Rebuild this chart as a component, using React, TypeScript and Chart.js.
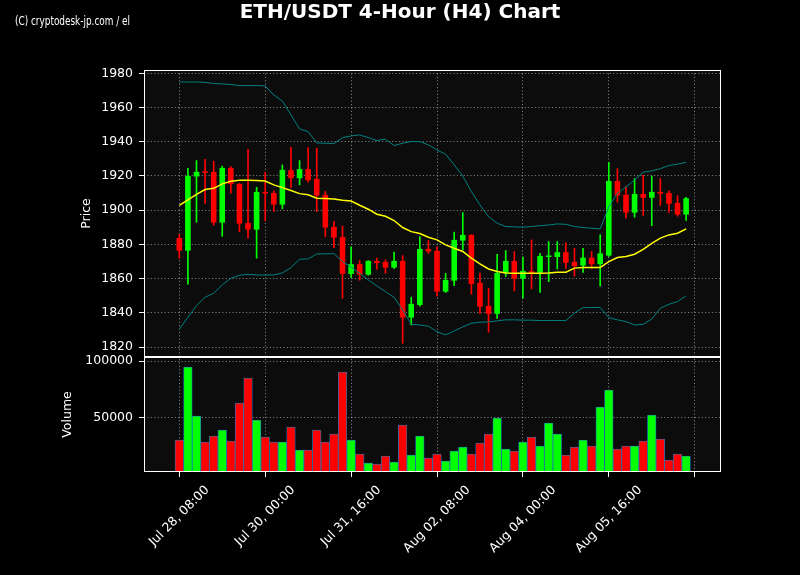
import React, { useEffect, useRef } from 'react';
import { Chart, registerables } from 'chart.js';

Chart.register(...registerables);

// ---- data (4-hour candles, index 0 = Jul 28 08:00) ----
const opens = [
  1883.8, 1876.4, 1919.7, 1922.2, 1922.4, 1892.8, 1924.7, 1915.4, 1892.6, 1888.7,
  1910.7, 1910.1, 1903.3, 1923.4, 1918.7, 1924.0, 1918.3, 1909.0, 1890.3, 1884.4,
  1862.8, 1868.5, 1862.4, 1870.4, 1869.8, 1866.5, 1870.4, 1837.3, 1844.7, 1877.4,
  1876.3, 1852.5, 1858.9, 1882.3, 1885.6, 1857.6, 1844.1, 1839.5, 1863.4, 1870.4,
  1860.0, 1864.4, 1863.6, 1872.7, 1872.7, 1875.5, 1869.8, 1867.7, 1872.3, 1868.5,
  1873.5, 1917.1, 1909.0, 1898.6, 1909.5, 1907.3, 1910.7, 1910.1, 1904.3, 1897.5,
];
const highs = [
  1886.0, 1924.5, 1929.0, 1929.8, 1928.6, 1925.7, 1925.5, 1915.6, 1935.6, 1913.4,
  1922.2, 1911.3, 1926.5, 1936.8, 1929.0, 1936.6, 1936.2, 1911.0, 1893.6, 1890.7,
  1878.6, 1870.6, 1870.6, 1872.0, 1871.0, 1875.5, 1873.5, 1849.2, 1884.6, 1882.3,
  1878.6, 1863.1, 1887.2, 1898.6, 1885.8, 1863.2, 1854.4, 1874.2, 1876.5, 1875.9,
  1872.6, 1882.7, 1874.8, 1881.7, 1881.7, 1881.0, 1877.8, 1877.8, 1875.9, 1885.7,
  1928.0, 1924.3, 1913.8, 1918.5, 1920.4, 1920.0, 1918.5, 1911.3, 1908.6, 1907.6,
];
const lows = [
  1872.0, 1856.8, 1893.0, 1904.0, 1891.3, 1884.8, 1910.0, 1887.4, 1883.7, 1872.0,
  1893.8, 1899.2, 1900.8, 1913.4, 1914.8, 1916.4, 1899.2, 1884.6, 1878.2, 1848.6,
  1860.7, 1859.1, 1862.0, 1865.6, 1863.2, 1866.0, 1822.3, 1833.0, 1844.0, 1874.7,
  1849.8, 1852.0, 1856.0, 1876.8, 1851.0, 1839.7, 1828.8, 1836.9, 1861.3, 1852.9,
  1848.6, 1854.1, 1852.0, 1858.3, 1865.7, 1866.0, 1861.5, 1863.7, 1866.0, 1855.7,
  1873.0, 1904.7, 1895.3, 1895.9, 1897.0, 1891.0, 1902.8, 1898.8, 1896.5, 1894.0,
];
const closes = [
  1876.4, 1920.0, 1922.4, 1921.8, 1892.8, 1924.7, 1915.2, 1892.2, 1888.7, 1910.7,
  1909.8, 1903.3, 1923.6, 1918.7, 1924.0, 1917.5, 1908.6, 1889.9, 1884.0, 1862.9,
  1868.5, 1862.4, 1870.4, 1869.2, 1866.5, 1870.4, 1837.3, 1845.3, 1877.4, 1875.9,
  1852.5, 1859.3, 1882.7, 1885.6, 1857.0, 1843.7, 1839.5, 1863.4, 1870.4, 1860.0,
  1864.6, 1863.0, 1873.3, 1873.3, 1875.5, 1869.3, 1867.4, 1872.3, 1868.5, 1874.8,
  1917.1, 1908.6, 1898.6, 1909.5, 1907.3, 1910.7, 1909.7, 1903.8, 1897.5, 1907.0,
];
const volumes = [
  30700, 94700, 51750, 28950, 34200, 39470, 29800, 63160, 85090, 48250,
  33330, 28950, 28950, 42100, 21930, 21930, 39470, 28950, 35960, 90350,
  30700, 18420, 10530, 9650, 16670, 11400, 43860, 17540, 34200, 14910,
  18420, 12280, 21050, 24560, 18420, 28070, 35960, 50000, 22810, 21050,
  28950, 33330, 25440, 45610, 35960, 17540, 24560, 30700, 25440, 59650,
  74560, 22810, 25440, 25440, 29800, 52630, 31580, 13160, 18420, 16670,
];
const ma20 = [
  1902.9, 1906.0, 1909.3, 1912.1, 1912.8, 1915.4, 1916.9, 1917.5, 1917.5, 1917.3,
  1917.1, 1914.8, 1913.2, 1911.5, 1909.7, 1909.0, 1907.0, 1906.8, 1906.6, 1905.8,
  1905.4, 1902.9, 1900.6, 1897.7, 1896.5, 1894.0, 1889.9, 1887.5, 1886.4, 1884.2,
  1882.7, 1879.8, 1877.8, 1875.9, 1872.0, 1868.7, 1865.7, 1864.2, 1863.4, 1863.2,
  1863.2, 1863.2, 1863.2, 1863.4, 1863.8, 1863.8, 1866.2, 1866.5, 1866.5, 1866.5,
  1870.0, 1872.4, 1873.0, 1874.3, 1877.2, 1880.7, 1883.7, 1885.6, 1886.6, 1889.1,
];
const bbUpper = [
  1974.9, 1974.9, 1974.9, 1974.7, 1974.0, 1973.8, 1973.4, 1972.8, 1972.8, 1972.8,
  1972.6, 1967.3, 1963.8, 1955.7, 1947.5, 1945.9, 1939.3, 1939.1, 1938.9, 1942.4,
  1943.4, 1944.0, 1942.4, 1940.7, 1941.5, 1937.8, 1939.1, 1940.1, 1940.1, 1938.2,
  1935.2, 1932.7, 1926.5, 1920.0, 1910.9, 1903.1, 1896.3, 1892.4, 1890.5, 1890.3,
  1890.1, 1890.5, 1891.0, 1891.4, 1892.0, 1891.8, 1890.5, 1889.9, 1889.5, 1889.1,
  1902.1, 1909.9, 1913.6, 1917.7, 1922.2, 1923.0, 1924.3, 1926.1, 1926.9, 1928.0,
];
const bbLower = [
  1830.5, 1837.5, 1844.3, 1849.2, 1851.5, 1856.4, 1860.3, 1862.0, 1862.6, 1862.2,
  1862.2, 1862.2, 1863.4, 1866.5, 1871.4, 1871.6, 1874.5, 1874.5, 1874.7, 1870.0,
  1866.7, 1863.2, 1859.3, 1855.8, 1852.5, 1849.2, 1841.8, 1833.4, 1833.0, 1832.3,
  1829.1, 1827.2, 1829.5, 1831.9, 1834.0, 1834.6, 1834.8, 1835.4, 1836.0, 1836.0,
  1835.8, 1835.8, 1835.6, 1835.6, 1835.6, 1835.6, 1839.9, 1843.2, 1843.2, 1843.2,
  1837.3, 1836.0, 1835.0, 1833.0, 1833.4, 1836.5, 1842.8, 1845.1, 1846.7, 1850.0,
];
const xTickIndex = [0, 10, 20, 30, 40, 50, 60];
const xTickLabels = [
  'Jul 28, 08:00', 'Jul 30, 00:00', 'Jul 31, 16:00', 'Aug 02, 08:00',
  'Aug 04, 00:00', 'Aug 05, 16:00', '',
];
const priceTicks = [1820, 1840, 1860, 1880, 1900, 1920, 1940, 1960, 1980];
const volumeTicks = [50000, 100000];

const TITLE = 'ETH/USDT 4-Hour (H4) Chart';
const WATERMARK = '(C) cryptodesk-jp.com / el';

const GREEN = '#00ff00';
const RED = '#ff0000';
const GRID = 'rgba(175,175,175,0.85)';
const FONT = '"DejaVu Sans", sans-serif';

const decorPlugin = {
  id: 'decor',
  beforeDraw(chart: any) {
    const { ctx, chartArea } = chart;
    ctx.save();
    ctx.fillStyle = '#000';
    ctx.fillRect(0, 0, chart.width, chart.height);
    ctx.fillStyle = '#0c0c0c';
    ctx.fillRect(chartArea.left, chartArea.top, chartArea.right - chartArea.left, chartArea.bottom - chartArea.top);
    ctx.restore();
  },
  afterDraw(chart: any) {
    const { ctx, chartArea, scales } = chart;
    const yP = scales.y;
    const yV = scales.yv;
    const xS = scales.x;
    ctx.save();
    // frames
    ctx.strokeStyle = '#ffffff';
    ctx.lineWidth = 1;
    const L = Math.round(chartArea.left) + 0.5;
    const R = Math.round(chartArea.right) - 0.5;
    const frame = (t: number, b: number) => {
      const T = Math.round(t) + 0.5;
      const B = Math.round(b) - 0.5;
      ctx.strokeRect(L, T, R - L, B - T);
    };
    frame(yP.top, yP.bottom);
    frame(yV.top, yV.bottom);

    ctx.fillStyle = '#ffffff';
    // title
    ctx.font = `bold 20px ${FONT}`;
    ctx.textAlign = 'center';
    ctx.textBaseline = 'alphabetic';
    ctx.fillText(TITLE, chart.width / 2, 18);
    // watermark (narrow face)
    ctx.font = '12px "Liberation Sans Narrow", "DejaVu Sans Condensed", sans-serif';
    ctx.textAlign = 'left';
    const ww = ctx.measureText(WATERMARK).width;
    ctx.save();
    ctx.translate(15, 25);
    ctx.scale(115 / ww, 1);
    ctx.fillText(WATERMARK, 0, 0);
    ctx.restore();

    // axis titles
    ctx.font = `12.5px ${FONT}`;
    ctx.textAlign = 'center';
    ctx.textBaseline = 'middle';
    const vtext = (text: string, x: number, y: number) => {
      ctx.save();
      ctx.translate(x, y);
      ctx.rotate(-Math.PI / 2);
      ctx.fillText(text, 0, 0);
      ctx.restore();
    };
    vtext('Price', 86.5, (yP.top + yP.bottom) / 2);
    vtext('Volume', 68, (yV.top + yV.bottom) / 2);

    // x tick labels, rotated 45 and centred on the tick
    const fs = 12.5;
    xTickIndex.forEach((v, k) => {
      const label = xTickLabels[k];
      if (!label) return;
      const px = xS.getPixelForValue(v);
      const w = ctx.measureText(label).width;
      const bb = (w + fs * 1.17) * Math.SQRT1_2;
      const cy = chartArea.bottom + 11 + bb / 2;
      ctx.save();
      ctx.translate(px, cy);
      ctx.rotate(-Math.PI / 4);
      ctx.fillText(label, 0, 0);
      ctx.restore();
    });
    ctx.restore();
  },
};

export default function App() {
  const ref = useRef<HTMLCanvasElement | null>(null);

  useEffect(() => {
    document.body.style.margin = '0';
    document.body.style.background = '#000';
    const idx = opens.map((_, i) => i);
    const colors = idx.map((i) => (closes[i] >= opens[i] ? GREEN : RED));

    const gridCommon = {
      color: GRID,
      lineWidth: 0.8,
      tickColor: '#ffffff',
      tickWidth: 1,
      tickLength: 5,
      offset: false,
    };
    const borderCommon = { display: false, dash: [1.2, 2.2] };

    const chart = new Chart(ref.current as HTMLCanvasElement, {
      type: 'bar',
      data: {
        datasets: [
          {
            type: 'line',
            label: 'Upper',
            data: idx.map((i) => ({ x: i, y: bbUpper[i] })),
            borderColor: '#008080',
            borderWidth: 1,
            pointRadius: 0,
            yAxisID: 'y',
            order: 0,
          } as any,
          {
            type: 'line',
            label: 'Lower',
            data: idx.map((i) => ({ x: i, y: bbLower[i] })),
            borderColor: '#008080',
            borderWidth: 1,
            pointRadius: 0,
            yAxisID: 'y',
            order: 0,
          } as any,
          {
            type: 'line',
            label: 'MA',
            data: idx.map((i) => ({ x: i, y: ma20[i] })),
            borderColor: '#ffff00',
            borderWidth: 1.5,
            pointRadius: 0,
            yAxisID: 'y',
            order: 0,
          } as any,
          {
            type: 'bar',
            label: 'Body',
            data: idx.map((i) => ({ x: i, y: [opens[i], closes[i]] })),
            backgroundColor: colors,
            borderWidth: 0,
            barPercentage: 0.65,
            categoryPercentage: 1,
            grouped: false,
            minBarLength: 1.5,
            yAxisID: 'y',
            order: 1,
          } as any,
          {
            type: 'bar',
            label: 'Wick',
            data: idx.map((i) => ({ x: i, y: [lows[i], highs[i]] })),
            backgroundColor: colors,
            borderWidth: 0,
            barThickness: 1,
            grouped: false,
            yAxisID: 'y',
            order: 2,
          } as any,
          {
            type: 'bar',
            label: 'Volume',
            data: idx.map((i) => ({ x: i, y: volumes[i] })),
            backgroundColor: colors,
            borderColor: '#1f77b4',
            borderWidth: 0.8,
            borderSkipped: false,
            barPercentage: 1,
            categoryPercentage: 1,
            grouped: false,
            yAxisID: 'yv',
            order: 3,
          } as any,
        ],
      },
      options: {
        animation: false,
        responsive: false,
        maintainAspectRatio: false,
        devicePixelRatio: 1,
        layout: { padding: { top: 70, right: 79, left: 0, bottom: 0 } },
        plugins: { legend: { display: false }, tooltip: { enabled: false }, title: { display: false } },
        scales: {
          x: {
            type: 'linear',
            offset: false,
            min: -4.11,
            max: 63.06,
            afterBuildTicks: (s: any) => {
              s.ticks = xTickIndex.map((v) => ({ value: v }));
            },
            afterFit: (s: any) => {
              s.height = 103;
            },
            ticks: { display: false, autoSkip: false },
            grid: gridCommon,
            border: borderCommon,
          },
          y: {
            type: 'linear',
            position: 'left',
            stack: 'panels',
            stackWeight: 287,
            weight: 2,
            min: 1814.3,
            max: 1981.9,
            afterBuildTicks: (s: any) => {
              s.ticks = priceTicks.map((v) => ({ value: v }));
            },
            afterFit: (s: any) => {
              s.width = 144;
            },
            ticks: {
              color: '#ffffff',
              font: { family: FONT, size: 12.5 },
              padding: 6,
              autoSkip: false,
              callback: (v: any) => String(v),
            },
            grid: gridCommon,
            border: borderCommon,
          },
          yv: {
            type: 'linear',
            position: 'left',
            stack: 'panels',
            stackWeight: 115,
            weight: 1,
            min: 2630,
            max: 103510,
            afterBuildTicks: (s: any) => {
              s.ticks = volumeTicks.map((v) => ({ value: v }));
            },
            afterFit: (s: any) => {
              s.width = 144;
            },
            ticks: {
              color: '#ffffff',
              font: { family: FONT, size: 12.5 },
              padding: 6,
              autoSkip: false,
              callback: (v: any) => String(v),
            },
            grid: gridCommon,
            border: borderCommon,
          },
        },
      } as any,
      plugins: [decorPlugin],
    });
    return () => chart.destroy();
  }, []);

  return (
    <div style={{ position: 'fixed', left: 0, top: 0, width: 800, height: 575, background: '#000' }}>
      <canvas ref={ref} width={800} height={575} style={{ display: 'block', width: 800, height: 575 }} />
    </div>
  );
}
